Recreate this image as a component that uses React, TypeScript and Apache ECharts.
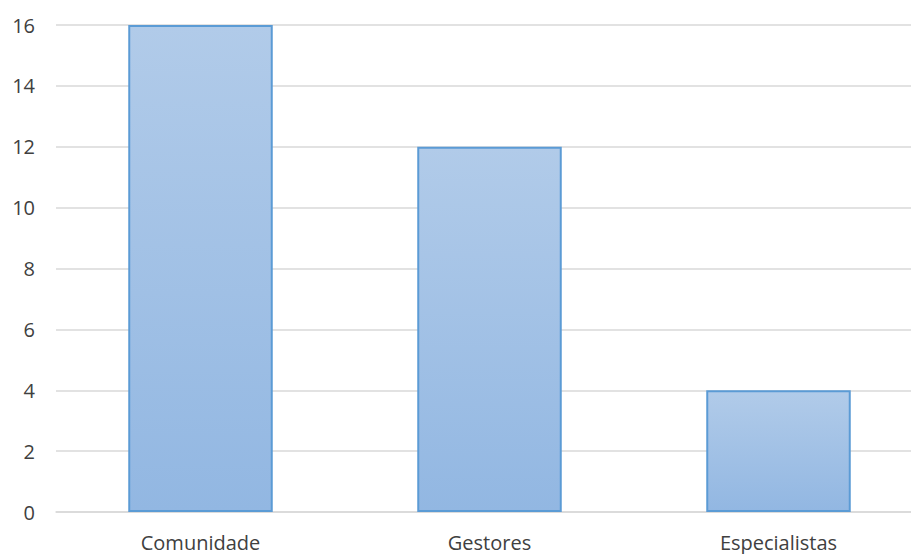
import React, { useEffect, useRef } from "react";
import * as echarts from "echarts";

const categories = ["Comunidade", "Gestores", "Especialistas"];
const values = [16, 12, 4];

export default function App() {
  const ref = useRef<HTMLDivElement>(null);
  useEffect(() => {
    const chart = echarts.init(ref.current!, null, { renderer: "svg" });
    chart.setOption({
      animation: false,
      grid: { left: 56, top: 25, width: 867, height: 487, containLabel: false },
      xAxis: {
        type: "category",
        data: categories,
        axisTick: { show: false },
        axisLine: { lineStyle: { color: "#D9D9D9", width: 1.5 } },
        axisLabel: {
          color: "#404040",
          fontSize: 20,
          fontFamily: "Open Sans",
          margin: 20,
        },
      },
      yAxis: {
        type: "value",
        min: 0,
        max: 16,
        interval: 2,
        axisLine: { show: false },
        axisTick: { show: false },
        splitLine: { lineStyle: { color: "#D9D9D9", width: 1.5 } },
        axisLabel: {
          color: "#404040",
          fontSize: 20,
          fontFamily: "Open Sans",
          margin: 21,
        },
      },
      series: [
        {
          type: "bar",
          data: values,
          barWidth: "50%",
          itemStyle: {
            color: new echarts.graphic.LinearGradient(0, 0, 0, 1, [
              { offset: 0, color: "#B1CBE9" },
              { offset: 1, color: "#92B7E2" },
            ]),
            borderColor: "#5B9BD5",
            borderWidth: 2,
          },
        },
      ],
    });
    return () => chart.dispose();
  }, []);
  return (
    <div style={{ width: 911, height: 554, position: "absolute", left: 0, top: 0, overflow: "hidden" }}>
      <div ref={ref} style={{ width: 940, height: 554 }} />
    </div>
  );
}
